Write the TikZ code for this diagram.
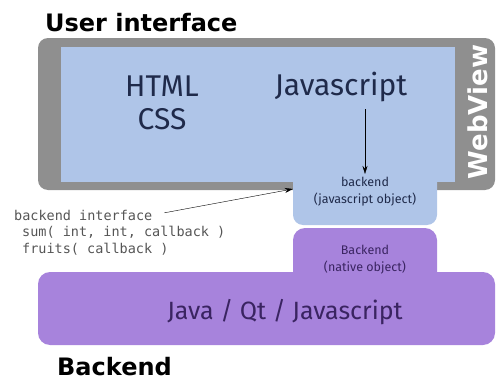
\documentclass[tikz,border=0pt]{standalone}
\usepackage{fontspec}
\setmainfont{Fira Sans}
\setmonofont{DejaVu Sans Mono}
\newfontfamily\headfont{DejaVu Sans}
\usetikzlibrary{arrows.meta}

\definecolor{viewgray}{HTML}{8F8F8F}
\definecolor{uiblue}{HTML}{AFC5E8}
\definecolor{nativepurple}{HTML}{A783DC}
\definecolor{bluetext}{HTML}{1F2A4A}
\definecolor{purpletext}{HTML}{3A2461}
\definecolor{codegray}{HTML}{555555}

\begin{document}
\begin{tikzpicture}[x=1pt,y=-1pt]
\tikzset{
  title/.style={font=\headfont\bfseries\fontsize{24}{24}\selectfont, anchor=base west, inner sep=0pt},
  big/.style={font=\fontsize{30}{33}\selectfont, text=bluetext, align=center},
  small/.style={font=\fontsize{12.5}{17}\selectfont, align=center},
  code/.style={font=\ttfamily\fontsize{13.5}{16.5}\selectfont, text=codegray, align=left},
  link/.style={-{Stealth[length=8pt,width=5pt]}, thin, black}
}
\useasboundingbox (0,0) rectangle (496,380);

% webview frame
\fill[viewgray, rounded corners=10] (38,38) rectangle (495,190);
\fill[uiblue] (61,47) rectangle (455,182);
\fill[uiblue, rounded corners=10] (293,170) rectangle (437,225);

% native side
\fill[nativepurple, rounded corners=12] (293,228) rectangle (437,290);
\fill[nativepurple, rounded corners=12] (38,272) rectangle (495,345);

\node[title] (ui) at (45,31) {User interface};
\node[title] (be) at (57,375) {Backend};
\node[rotate=90, text=white, font=\headfont\bfseries\fontsize{26}{26}\selectfont] (wv) at (478,112) {WebView};

\node[big] (html) at (162,103) {HTML\\CSS};
\node[big] (js) at (341,87) {Javascript};
\node[small, text=bluetext, minimum width=144pt] (jsobj) at (365,192) {backend\\(javascript object)};
\node[small, text=purpletext] (native) at (365,260) {Backend\\(native object)};
\node[big, text=purpletext, font=\fontsize{25}{25}\selectfont] (lang) at (285,312) {Java / Qt / Javascript};

\node[code, anchor=west, inner sep=0pt] (iface) at (14,215) {backend interface};
\node[code, anchor=north west, inner sep=0pt] (methods) at (22,226) {sum( int, int, callback )\\fruits( callback )};

\draw[link] (js.south -| jsobj.north) ++(0,4) -- (jsobj.north);
\draw[link, shorten <=12pt] (iface.east) -- ([yshift=3pt]jsobj.west);
\end{tikzpicture}
\end{document}
